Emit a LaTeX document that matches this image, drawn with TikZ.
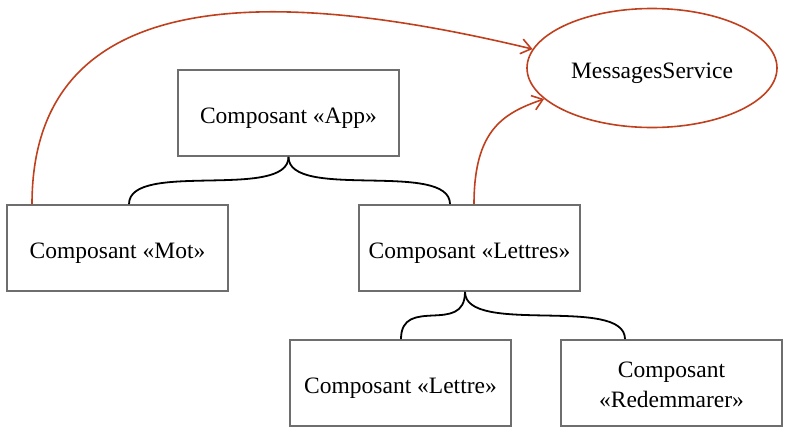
\documentclass[tikz,border=0pt]{standalone}
\usepackage{fontspec}
\setmainfont{Liberation Serif}
\usetikzlibrary{shapes.geometric,arrows.meta,calc}
\definecolor{rust}{HTML}{C0401E}
\definecolor{boxgray}{HTML}{6E6E6E}
\begin{document}
\begin{tikzpicture}[x=1pt,y=-1pt,
  comp/.style={draw=boxgray,line width=1.8pt,minimum width=221pt,minimum height=86pt,inner sep=0pt,align=center,font=\fontsize{23.5}{30}\selectfont,text height=20pt,text depth=0pt},
  twoline/.style={text height=48pt,text depth=0pt},
  svc/.style={ellipse,draw=rust,line width=1.6pt,minimum width=250pt,minimum height=119pt,inner sep=0pt,font=\fontsize{23.5}{30}\selectfont,text height=20pt,text depth=0pt},
  tree/.style={line width=1.8pt},
  dep/.style={draw=rust,line width=1.6pt,-{Straight Barb[length=10pt,width=15pt]}}]
\useasboundingbox (0,0) rectangle (791,434);
\node[comp] (app) at (288.5,113) {Composant «App»};
\node[comp] (mot) at (117.5,248) {Composant «Mot»};
\node[comp] (lettres) at (469.5,248) {Composant «Lettres»};
\node[comp] (lettre) at (400.5,383) {Composant «Lettre»};
\node[comp,twoline] (redem) at (671.5,383) {Composant\\«Redemmarer»};
\node[svc] (svc) at (652,68) {MessagesService};
\draw[tree] (app.south) .. controls +(0,44) and +(0,-44) .. ([xshift=11.5pt]mot.north);
\draw[tree] (app.south) .. controls +(0,44) and +(0,-44) .. ([xshift=-19.5pt]lettres.north);
\draw[tree] ([xshift=-4.5pt]lettres.south) .. controls +(0,44) and +(0,-44) .. ([xshift=0.5pt]lettre.north);
\draw[tree] ([xshift=-4.5pt]lettres.south) .. controls +(0,44) and +(0,-44) .. ([xshift=-46.5pt]redem.north);
\draw[dep] ([xshift=-85.5pt]mot.north) .. controls +(0,-245) and +(-205,-49) .. (svc.171);
\draw[dep] ([xshift=4.5pt]lettres.north) .. controls +(0,-75) and +(-40,14) .. (svc.196);
\end{tikzpicture}
\end{document}
